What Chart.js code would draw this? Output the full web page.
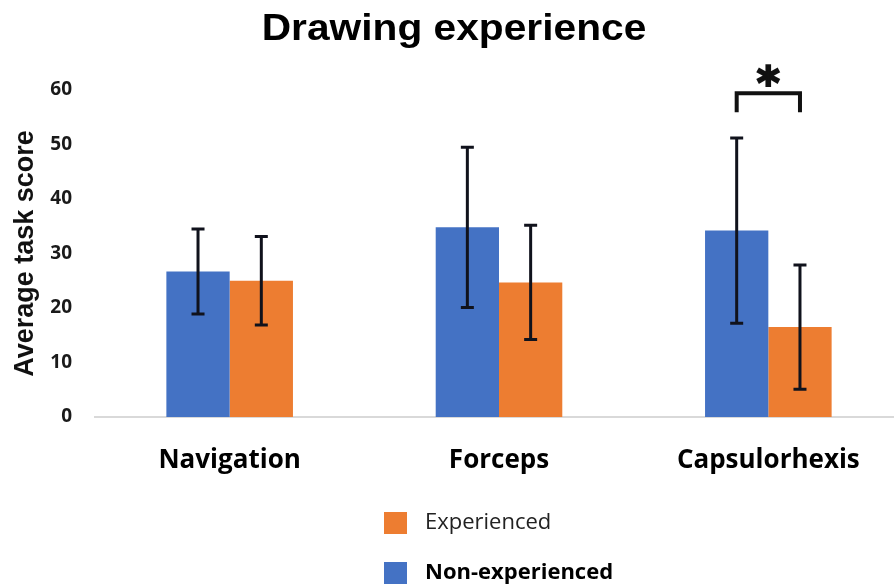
<!DOCTYPE html>
<html lang="en">
<head>
  <meta charset="UTF-8" />
  <title>Drawing experience</title>
  <script src="https://cdn.jsdelivr.net/npm/chart.js"></script>
  <style>
    html, body { margin: 0; padding: 0; background: #fff; overflow: hidden; }
    #chart { display: block; }
  </style>
</head>
<body>
  <canvas id="chart" width="910" height="584"></canvas>

  <script>
    // Values
    const categories = ['Navigation', 'Forceps', 'Capsulorhexis'];
    const nonExperienced = [26.7, 34.8, 34.2];
    const nonExperiencedErr = [7.8, 14.7, 17.0];
    const experienced = [25.0, 24.7, 16.5];
    const experiencedErr = [8.1, 10.5, 11.4];
    const yMin = 0;
    const yMax = 60;
    const yStep = 10;

    // Significance marks: category index, bracket level, label
    const sigCategories = [2];
    const sigLevels = [59.4];
    const sigLabels = ['*'];

    const chartTitle = 'Drawing experience';
    const BLUE = '#4472C4';
    const ORANGE = '#ED7D31';
    const errors = [nonExperiencedErr, experiencedErr];

    // Title, a little wider than the plain font as in the figure
    const wideTitle = {
      id: 'wideTitle',
      afterDraw(chart) {
        const ctx = chart.ctx;
        ctx.save();
        ctx.translate(454, 40);
        ctx.scale(1.1, 1);
        ctx.fillStyle = '#000';
        ctx.font = 'bold 37px "Liberation Sans"';
        ctx.textAlign = 'center';
        ctx.textBaseline = 'alphabetic';
        ctx.fillText(chartTitle, 0, 0);
        ctx.restore();
      }
    };

    // Error bars on top of each bar
    const errorBars = {
      id: 'errorBars',
      afterDatasetsDraw(chart) {
        const ctx = chart.ctx;
        const y = chart.scales.y;
        ctx.save();
        ctx.strokeStyle = '#10121c';
        ctx.lineWidth = 3;
        chart.data.datasets.forEach((ds, i) => {
          const meta = chart.getDatasetMeta(i);
          meta.data.forEach((bar, j) => {
            const v = ds.data[j];
            const e = errors[i][j];
            const top = y.getPixelForValue(v + e);
            const bot = y.getPixelForValue(v - e);
            const half = 6.5;
            ctx.beginPath();
            ctx.moveTo(bar.x, top);
            ctx.lineTo(bar.x, bot);
            ctx.moveTo(bar.x - half, top);
            ctx.lineTo(bar.x + half, top);
            ctx.moveTo(bar.x - half, bot);
            ctx.lineTo(bar.x + half, bot);
            ctx.stroke();
          });
        });
        ctx.restore();
      }
    };

    // Significance bracket with star
    const sigBracket = {
      id: 'sigBracket',
      afterDraw(chart) {
        const ctx = chart.ctx;
        const y = chart.scales.y;
        ctx.save();
        sigCategories.forEach((c, k) => {
          const x1 = chart.getDatasetMeta(0).data[c].x;
          const x2 = chart.getDatasetMeta(1).data[c].x;
          const yy = y.getPixelForValue(sigLevels[k]);
          const leg = 19;
          ctx.strokeStyle = '#111';
          ctx.lineWidth = 4;
          ctx.beginPath();
          ctx.moveTo(x1, yy + leg);
          ctx.lineTo(x1, yy);
          ctx.lineTo(x2, yy);
          ctx.lineTo(x2, yy + leg);
          ctx.stroke();
          ctx.fillStyle = '#111';
          ctx.lineWidth = 2;
          ctx.font = 'bold 44px "DejaVu Sans"';
          ctx.textAlign = 'center';
          ctx.textBaseline = 'alphabetic';
          ctx.fillText(sigLabels[k], (x1 + x2) / 2, yy + 5);
          ctx.strokeText(sigLabels[k], (x1 + x2) / 2, yy + 5);
        });
        ctx.restore();
      }
    };

    // Legend stacked below the axis, orange first
    const stackedLegend = {
      id: 'stackedLegend',
      afterDraw(chart) {
        const ctx = chart.ctx;
        const items = [
          { label: chart.data.datasets[1].label, color: chart.data.datasets[1].backgroundColor, weight: 'normal', text: '#222' },
          { label: chart.data.datasets[0].label, color: chart.data.datasets[0].backgroundColor, weight: 'bold', text: '#000' }
        ];
        ctx.save();
        items.forEach((it, i) => {
          const cy = 523 + i * 50;
          ctx.fillStyle = it.color;
          ctx.fillRect(384, cy - 11, 23, 22);
          ctx.fillStyle = it.text;
          ctx.font = it.weight + ' 22px "Open Sans"';
          ctx.textAlign = 'left';
          ctx.textBaseline = 'middle';
          ctx.fillText(it.label, 425, cy);
        });
        ctx.restore();
      }
    };

    new Chart(document.getElementById('chart'), {
      type: 'bar',
      data: {
        labels: categories,
        datasets: [
          { label: 'Non-experienced', data: nonExperienced, backgroundColor: BLUE },
          { label: 'Experienced', data: experienced, backgroundColor: ORANGE }
        ]
      },
      options: {
        responsive: false,
        animation: false,
        datasets: { bar: { categoryPercentage: 0.47, barPercentage: 1.0 } },
        layout: { padding: { left: 0, right: 7, top: 90, bottom: 0 } },
        plugins: {
          legend: { display: false },
          tooltip: { enabled: false },
          title: { display: false }
        },
        scales: {
          x: {
            grid: { display: false, drawTicks: false },
            border: { display: true, color: '#d9d9d9', width: 2 },
            ticks: {
              color: '#000',
              padding: 28,
              font: { family: 'Open Sans', weight: 'bold', size: 26 }
            },
            afterFit(scale) { scale.height = 167; }
          },
          y: {
            min: yMin,
            max: yMax,
            grid: { display: false, drawTicks: false },
            border: { display: false },
            ticks: {
              stepSize: yStep,
              color: '#1a1a1a',
              padding: 23,
              font: { family: 'Open Sans', weight: 'bold', size: 19 }
            },
            title: {
              display: true,
              text: 'Average task score',
              color: '#111',
              padding: { top: 9, bottom: 0 },
              font: { family: 'Liberation Sans', weight: 'bold', size: 27 }
            },
            afterFit(scale) { scale.width = 95; }
          }
        }
      },
      plugins: [wideTitle, errorBars, sigBracket, stackedLegend]
    });
  </script>
</body>
</html>
